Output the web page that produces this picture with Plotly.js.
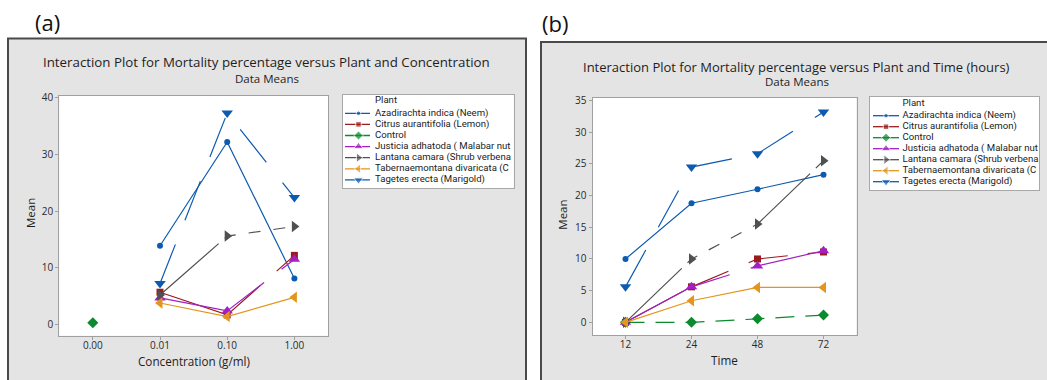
<!DOCTYPE html>
<html>
<head>
<meta charset="utf-8">
<script src="https://cdn.plot.ly/plotly-3.0.1.min.js"></script>
<style>
  html, body { margin: 0; padding: 0; background: #ffffff; }
  #chart { width: 1047px; height: 380px; }
</style>
</head>
<body>
<div id="chart"></div>
<script>
// ---------------- data ----------------
const concLabels = ['0.00', '0.01', '0.10', '1.00'];
const timeLabels = ['12', '24', '48', '72'];
const plants = [
  'Azadirachta indica (Neem)',
  'Citrus aurantifolia (Lemon)',
  'Control',
  'Justicia adhatoda ( Malabar nut)',
  'Lantana camara (Shrub verbena)',
  'Tabernaemontana divaricata (Crape jasmine)',
  'Tagetes erecta (Marigold)'
];
// legend labels as far as the reference legend box shows them
const legendLabels = [
  'Azadirachta indica (Neem)',
  'Citrus aurantifolia (Lemon)',
  'Control',
  'Justicia adhatoda ( Malabar nut',
  'Lantana camara (Shrub verbena',
  'Tabernaemontana divaricata (C',
  'Tagetes erecta (Marigold)'
];
// panel (a): mean mortality by concentration
const neemConc     = [13.9, 32.2, 8.1];
const citrusConc   = [5.7, 1.7, 12.2];
const controlConc  = [0.3];
const justiciaConc = [4.7, 2.4, 11.5];
const lantanaConc  = [5.2, 15.6, 17.3];
const tabernConc   = [3.8, 1.4, 4.8];
const tagetesConc  = [7.25, 37.3, 22.4];
// which concentration levels each plant was tested at
const concTreated = ['0.01', '0.10', '1.00'];
const concControl = ['0.00'];
// panel (b): mean mortality by time (hours)
const neemTime     = [10.0, 18.8, 21.0, 23.3];
const citrusTime   = [0, 5.6, 10.0, 11.1];
const controlTime  = [0, 0, 0.55, 1.15];
const justiciaTime = [0, 5.6, 8.9, 11.3];
const lantanaTime  = [0, 10.0, 15.5, 25.5];
const tabernTime   = [0, 3.4, 5.5, 5.5];
const tagetesTime  = [5.6, 24.5, 26.6, 33.2];

const concSeries = [neemConc, citrusConc, controlConc, justiciaConc, lantanaConc, tabernConc, tagetesConc];
const concX      = [concTreated, concTreated, concControl, concTreated, concTreated, concTreated, concTreated];
const timeSeries = [neemTime, citrusTime, controlTime, justiciaTime, lantanaTime, tabernTime, tagetesTime];

// ---------------- styles ----------------
const styles = [
  {color: '#0d5bb0', symbol: 'circle',         size: 6,   dash: 'solid'},
  {color: '#9a1b1e', symbol: 'square',         size: 7,   dash: '115px,22px,40px,20px'},
  {color: '#0b8a2e', symbol: 'diamond',        size: 8.5, dash: '19px,11px'},
  {color: '#a21fc4', symbol: 'triangle-up',    size: 10,  dash: '115px,22px'},
  {color: '#505050', symbol: 'triangle-right', size: 10,  dash: '78px,8px,12px,13px,12px,13px,12px,13px'},
  {color: '#e3951c', symbol: 'triangle-left',  size: 10,  dash: 'solid'},
  {color: '#0d5bb0', symbol: 'triangle-down',  size: 10,  dash: '42px,26px'}
];

const W = 1047, H = 380;
const FONT = 'Open Sans, Noto Sans, sans-serif';
const LFONT = 'Roboto, Liberation Sans, sans-serif';
const fx = p => p / W;
const fy = p => 1 - p / H;

// plot area pixel boxes
const boxA = {l: 59.2, r: 328, t: 95.5, b: 335.7};
const boxB = {l: 592.5, r: 856.5, t: 98, b: 335};
const legA = {l: 342.5, r: 513.8, t: 95, b: 188, head: 6, first: 18.3, step: 11.1, k0: 2.5, km: 16, k1: 27.5, tx: 32.5};
const legB = {l: 870, r: 1039, t: 97, b: 190, head: 7, first: 18.7, step: 11.0, k0: 3, km: 16, k1: 29, tx: 32.5};

const traces = [];
// panel (a)
plants.forEach((name, i) => {
  const s = styles[i];
  traces.push({
    type: 'scatter', mode: 'lines+markers', name: name, showlegend: false,
    x: concX[i], y: concSeries[i], xaxis: 'x', yaxis: 'y',
    line: {color: s.color, width: 1.2, dash: s.dash},
    marker: {color: s.color, symbol: s.symbol, size: s.size},
    cliponaxis: false, hoverinfo: 'skip'
  });
});
// panel (b)
plants.forEach((name, i) => {
  const s = styles[i];
  traces.push({
    type: 'scatter', mode: 'lines+markers', name: name, showlegend: false,
    x: timeLabels, y: timeSeries[i], xaxis: 'x2', yaxis: 'y2',
    line: {color: s.color, width: 1.2, dash: s.dash},
    marker: {color: s.color, symbol: s.symbol, size: s.size},
    cliponaxis: false, hoverinfo: 'skip'
  });
});
// legend keys, drawn in hidden axes that sit where the legend boxes are
function legendTraces(L, xa, ya) {
  plants.forEach((name, i) => {
    const s = styles[i];
    const row = L.first + i * L.step;
    traces.push({
      type: 'scatter', mode: 'lines+markers', showlegend: false, hoverinfo: 'skip',
      x: [L.k0, L.km, L.k1], y: [row, row, row], xaxis: xa, yaxis: ya,
      line: {color: s.color, width: 1.3},
      marker: {color: s.color, symbol: s.symbol, size: [0, s.size - 1.5, 0]},
      cliponaxis: true
    });
  });
  traces.push({
    type: 'scatter', mode: 'text', showlegend: false, hoverinfo: 'skip',
    x: [L.tx].concat(legendLabels.map(() => L.tx)),
    y: [L.head].concat(legendLabels.map((p, i) => L.first + i * L.step)),
    text: ['Plant'].concat(legendLabels),
    textposition: 'middle right',
    textfont: {family: LFONT, size: 9.6, color: '#222'},
    xaxis: xa, yaxis: ya, cliponaxis: true
  });
}
legendTraces(legA, 'x3', 'y3');
legendTraces(legB, 'x4', 'y4');

const axisCommon = {
  showgrid: false, zeroline: false, showline: true, mirror: true,
  linecolor: '#a0a0a0', linewidth: 1, ticks: 'outside', ticklen: 3,
  tickcolor: '#a0a0a0', tickfont: {family: FONT, size: 10, color: '#2a2a2a'},
  fixedrange: true, automargin: false
};
const hiddenAxis = {
  showgrid: false, zeroline: false, showline: true, mirror: true,
  linecolor: '#a8a8a8', linewidth: 1, ticks: '', showticklabels: false,
  fixedrange: true, automargin: false
};

function ann(text, x, y, size, extra) {
  return Object.assign({
    text: text, x: fx(x), y: fy(y), xref: 'paper', yref: 'paper',
    xanchor: 'center', yanchor: 'middle', showarrow: false,
    font: {family: FONT, size: size, color: '#1e1e1e'}
  }, extra || {});
}

const layout = {
  width: W, height: H,
  margin: {l: 0, r: 0, t: 0, b: 0, pad: 0},
  paper_bgcolor: '#ffffff', plot_bgcolor: '#ffffff',
  showlegend: false,
  xaxis: Object.assign({}, axisCommon, {
    type: 'category', categoryorder: 'array', categoryarray: concLabels,
    range: [-0.5, 3.5], domain: [fx(boxA.l), fx(boxA.r)], anchor: 'y', ticklabelstandoff: -3
  }),
  yaxis: Object.assign({}, axisCommon, {
    range: [-1.97, 40.4], dtick: 10, tick0: 0, domain: [fy(boxA.b), fy(boxA.t)], anchor: 'x'
  }),
  xaxis2: Object.assign({}, axisCommon, {
    type: 'category', categoryorder: 'array', categoryarray: timeLabels,
    range: [-0.5, 3.5], domain: [fx(boxB.l), fx(boxB.r)], anchor: 'y2', ticklabelstandoff: -3
  }),
  yaxis2: Object.assign({}, axisCommon, {
    range: [-2.0, 35.4], dtick: 5, tick0: 0, domain: [fy(boxB.b), fy(boxB.t)], anchor: 'x2'
  }),
  xaxis3: Object.assign({}, hiddenAxis, {range: [0, legA.r - legA.l], domain: [fx(legA.l), fx(legA.r)], anchor: 'y3'}),
  yaxis3: Object.assign({}, hiddenAxis, {range: [legA.b - legA.t, 0], domain: [fy(legA.b), fy(legA.t)], anchor: 'x3'}),
  xaxis4: Object.assign({}, hiddenAxis, {range: [0, legB.r - legB.l], domain: [fx(legB.l), fx(legB.r)], anchor: 'y4'}),
  yaxis4: Object.assign({}, hiddenAxis, {range: [legB.b - legB.t, 0], domain: [fy(legB.b), fy(legB.t)], anchor: 'x4'}),
  shapes: [
    // gray panel frames
    {type: 'rect', xref: 'paper', yref: 'paper', layer: 'below',
     x0: fx(8), x1: fx(526), y0: fy(392), y1: fy(38.5),
     fillcolor: '#e4e4e4', line: {color: '#4a4a4a', width: 2}},
    {type: 'rect', xref: 'paper', yref: 'paper', layer: 'below',
     x0: fx(541), x1: fx(1060), y0: fy(392), y1: fy(42),
     fillcolor: '#e4e4e4', line: {color: '#4a4a4a', width: 2}},
    // white plot areas and legend boxes
    {type: 'rect', xref: 'paper', yref: 'paper', layer: 'below',
     x0: fx(boxA.l), x1: fx(boxA.r), y0: fy(boxA.b), y1: fy(boxA.t), fillcolor: '#ffffff', line: {width: 0}},
    {type: 'rect', xref: 'paper', yref: 'paper', layer: 'below',
     x0: fx(boxB.l), x1: fx(boxB.r), y0: fy(boxB.b), y1: fy(boxB.t), fillcolor: '#ffffff', line: {width: 0}},
    {type: 'rect', xref: 'paper', yref: 'paper', layer: 'below',
     x0: fx(legA.l), x1: fx(legA.r), y0: fy(legA.b), y1: fy(legA.t), fillcolor: '#ffffff', line: {width: 0}},
    {type: 'rect', xref: 'paper', yref: 'paper', layer: 'below',
     x0: fx(legB.l), x1: fx(legB.r), y0: fy(legB.b), y1: fy(legB.t), fillcolor: '#ffffff', line: {width: 0}}
  ],
  annotations: [
    ann('(a)', 47, 21.5, 22, {font: {family: FONT, size: 22, color: '#111'}}),
    ann('(b)', 555, 23, 22, {font: {family: FONT, size: 22, color: '#111'}}),
    ann('Interaction Plot for Mortality percentage versus Plant and Concentration', 266, 62, 13.3),
    ann('Data Means', 267, 78.7, 11.5),
    ann('Interaction Plot for Mortality percentage versus Plant and Time (hours)', 796, 66.7, 13),
    ann('Data Means', 797, 81, 11.5),
    ann('Mean', 30, 213, 11.5, {textangle: -90}),
    ann('Concentration (g/ml)', 194, 361, 11.7),
    ann('Mean', 561.7, 215, 11.5, {textangle: -90}),
    ann('Time', 724.3, 360, 11.7)
  ]
};

Plotly.newPlot('chart', traces, layout, {staticPlot: true, displayModeBar: false});
</script>
</body>
</html>
